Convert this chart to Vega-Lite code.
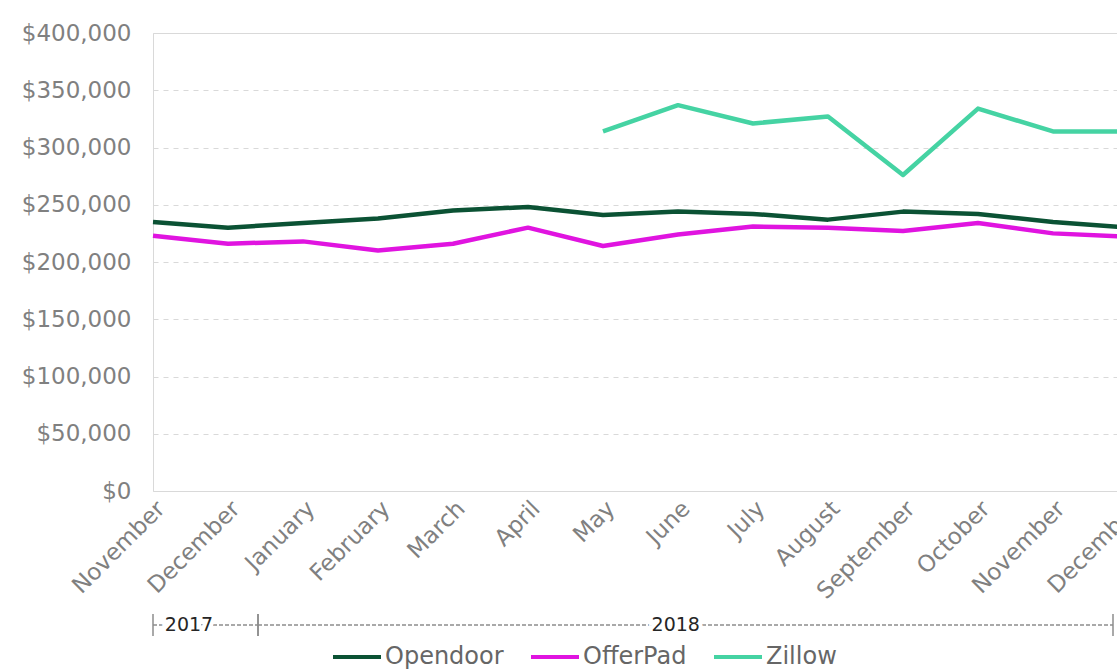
{
  "$schema": "https://vega.github.io/schema/vega-lite/v6.json",
  "background": "white",
  "padding": {"left": 20, "top": 21, "right": 0, "bottom": 0},
  "config": {"font": "DejaVu Sans", "view": {"stroke": null}},
  "datasets": {
    "prices": [
      {"period": "November 2017", "company": "Opendoor", "price": 235000},
      {"period": "December 2017", "company": "Opendoor", "price": 230000},
      {"period": "January 2018", "company": "Opendoor", "price": 234000},
      {"period": "February 2018", "company": "Opendoor", "price": 238000},
      {"period": "March 2018", "company": "Opendoor", "price": 245000},
      {"period": "April 2018", "company": "Opendoor", "price": 248000},
      {"period": "May 2018", "company": "Opendoor", "price": 241000},
      {"period": "June 2018", "company": "Opendoor", "price": 244000},
      {"period": "July 2018", "company": "Opendoor", "price": 242000},
      {"period": "August 2018", "company": "Opendoor", "price": 237000},
      {"period": "September 2018", "company": "Opendoor", "price": 244000},
      {"period": "October 2018", "company": "Opendoor", "price": 242000},
      {"period": "November 2018", "company": "Opendoor", "price": 235000},
      {"period": "December 2018", "company": "Opendoor", "price": 230000},
      {"period": "November 2017", "company": "OfferPad", "price": 223000},
      {"period": "December 2017", "company": "OfferPad", "price": 216000},
      {"period": "January 2018", "company": "OfferPad", "price": 218000},
      {"period": "February 2018", "company": "OfferPad", "price": 210000},
      {"period": "March 2018", "company": "OfferPad", "price": 216000},
      {"period": "April 2018", "company": "OfferPad", "price": 230000},
      {"period": "May 2018", "company": "OfferPad", "price": 214000},
      {"period": "June 2018", "company": "OfferPad", "price": 224000},
      {"period": "July 2018", "company": "OfferPad", "price": 231000},
      {"period": "August 2018", "company": "OfferPad", "price": 230000},
      {"period": "September 2018", "company": "OfferPad", "price": 227000},
      {"period": "October 2018", "company": "OfferPad", "price": 234000},
      {"period": "November 2018", "company": "OfferPad", "price": 225000},
      {"period": "December 2018", "company": "OfferPad", "price": 222000},
      {"period": "May 2018", "company": "Zillow", "price": 314000},
      {"period": "June 2018", "company": "Zillow", "price": 337000},
      {"period": "July 2018", "company": "Zillow", "price": 321000},
      {"period": "August 2018", "company": "Zillow", "price": 327000},
      {"period": "September 2018", "company": "Zillow", "price": 276000},
      {"period": "October 2018", "company": "Zillow", "price": 334000},
      {"period": "November 2018", "company": "Zillow", "price": 314000},
      {"period": "December 2018", "company": "Zillow", "price": 314000}
    ],
    "years": [
      {"year": "2017", "start": 0, "end": 1.4, "mid": 0.48},
      {"year": "2018", "start": 1.4, "end": 12.8, "mid": 6.97}
    ]
  },
  "spacing": 9,
  "vconcat": [
    {
      "width": 975,
      "height": 458,
      "view": {"stroke": "#d9d9d9"},
      "data": {"name": "prices"},
      "mark": {"type": "line", "strokeWidth": 4.5, "strokeJoin": "round"},
      "encoding": {
        "x": {
          "field": "period",
          "type": "ordinal",
          "sort": null,
          "scale": {"type": "point", "padding": 0},
          "axis": {
            "title": null,
            "labelAngle": -45,
            "labelFontSize": 23,
            "labelColor": "#808080",
            "ticks": false,
            "domain": false,
            "grid": false,
            "labelPadding": 6,
            "labelExpr": "split(datum.value, ' ')[0]"
          }
        },
        "y": {
          "field": "price",
          "type": "quantitative",
          "scale": {"domain": [0, 400000]},
          "axis": {
            "title": null,
            "format": "$,.0f",
            "values": [0, 50000, 100000, 150000, 200000, 250000, 300000, 350000, 400000],
            "labelFontSize": 23,
            "labelColor": "#808080",
            "ticks": false,
            "domain": false,
            "labelPadding": 22,
            "gridDash": [5, 5],
            "gridColor": "#d9d9d9",
            "gridWidth": 1
          }
        },
        "color": {
          "field": "company",
          "type": "nominal",
          "sort": ["Opendoor", "OfferPad", "Zillow"],
          "scale": {"domain": ["Opendoor", "OfferPad", "Zillow"], "range": ["#0b5234", "#e014e0", "#45d3a3"]},
          "legend": {
            "title": null,
            "orient": "none",
            "legendX": 178,
            "legendY": 598,
            "direction": "horizontal",
            "symbolType": "stroke",
            "symbolSize": 2304,
            "symbolStrokeWidth": 4,
            "labelFontSize": 24,
            "labelColor": "#666666",
            "labelOffset": 2,
            "columnPadding": 19
          }
        }
      }
    },
    {
      "width": 975,
      "height": 22,
      "view": {"stroke": null},
      "data": {"name": "years"},
      "layer": [
        {
          "mark": {"type": "rule", "strokeDash": [4, 2], "color": "#555555", "strokeWidth": 1.2},
          "encoding": {
            "x": {"field": "start", "type": "quantitative", "scale": {"domain": [0, 13]}, "axis": null},
            "x2": {"field": "end"}
          }
        },
        {
          "mark": {"type": "rule", "color": "#8c8c8c", "strokeWidth": 1.5},
          "encoding": {
            "x": {"field": "start", "type": "quantitative", "scale": {"domain": [0, 13]}, "axis": null}
          }
        },
        {
          "mark": {"type": "rule", "color": "#8c8c8c", "strokeWidth": 1.5},
          "encoding": {
            "x": {"field": "end", "type": "quantitative", "scale": {"domain": [0, 13]}, "axis": null}
          }
        },
        {
          "mark": {"type": "text", "fontSize": 19, "stroke": "white", "strokeWidth": 8, "color": "white"},
          "encoding": {
            "x": {"field": "mid", "type": "quantitative", "scale": {"domain": [0, 13]}, "axis": null},
            "text": {"field": "year"}
          }
        },
        {
          "mark": {"type": "text", "fontSize": 19, "color": "#262626"},
          "encoding": {
            "x": {"field": "mid", "type": "quantitative", "scale": {"domain": [0, 13]}, "axis": null},
            "text": {"field": "year"}
          }
        }
      ]
    }
  ]
}
